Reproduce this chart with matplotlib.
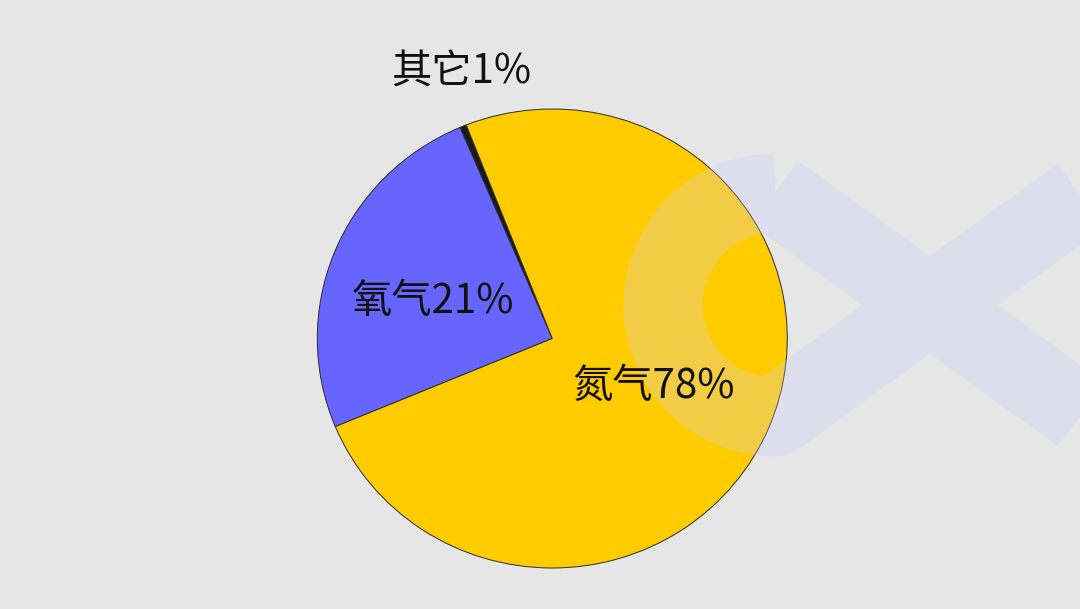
import numpy as np
import matplotlib
matplotlib.use('Agg')
import matplotlib.pyplot as plt
import matplotlib.transforms as mtransforms
from matplotlib.path import Path
from matplotlib.patches import PathPatch

plt.rcParams['font.family'] = ['Noto Sans CJK SC', 'DejaVu Sans']

# slice shares as drawn in the picture (labels carry the printed numbers)
names = ['其它', '氧气', '氮气']
shares = [0.45, 24.85, 74.7]
label_texts = ['其它1%', '氧气21%', '氮气78%']
colors = ['#1a1a1a', '#6666ff', '#ffcc00']

W, H, DPI = 1080, 609, 100
fig = plt.figure(figsize=(W / DPI, H / DPI), dpi=DPI)
fig.patch.set_facecolor('#e6e6e6')

# pie axes: x radius 235 px, y radius 229.5 px, centre at (552.3, 338.5)
cx, cy, rx, ry = 552.3, 338.5, 235.0, 229.5
ax = fig.add_axes([(cx - rx) / W, (H - cy - ry) / H, 2 * rx / W, 2 * ry / H])
ax.pie(shares, colors=colors, startangle=111.5, counterclock=True,
       wedgeprops=dict(edgecolor='#2a2a2a', linewidth=0.7))
ax.set_aspect('auto')
ax.set_xlim(-1, 1)
ax.set_ylim(-1, 1)
ax.axis('off')

# faint infinity-shaped watermark, drawn in pixel coords (y down)
px = mtransforms.Affine2D().scale(1 / DPI, -1 / DPI).translate(0, H / DPI) + fig.dpi_scale_trans
c1, c2, rm = (775, 305), (1085, 305), 112
t1 = np.linspace(np.pi / 2, 3 * np.pi / 2, 60)
t2 = np.linspace(np.pi / 2, -np.pi / 2, 60)
xs = np.concatenate([c1[0] + rm * np.cos(t1), c2[0] + rm * np.cos(t2), [c1[0]]])
ys = np.concatenate([c1[1] - rm * np.sin(t1), c2[1] - rm * np.sin(t2), [c1[1] - rm]])
codes = [Path.MOVETO] + [Path.LINETO] * (len(xs) - 2) + [Path.CLOSEPOLY]
ribbon = PathPatch(Path(np.column_stack([xs, ys]), codes), fill=False,
                   edgecolor='#ccccff', alpha=0.27, linewidth=57,
                   joinstyle='round', transform=px, clip_on=False, zorder=5)
ax.add_patch(ribbon)

# labels
label_pos = [(-0.389, 1.16), (-0.508, 0.16), (0.432, -0.21)]
for txt, (lx, ly) in zip(label_texts, label_pos):
    ax.text(lx, ly, txt, ha='center', va='center', fontsize=29,
            fontweight='medium', color='#111111', zorder=10, clip_on=False)

fig.savefig('out.png', dpi=DPI, facecolor=fig.get_facecolor())
